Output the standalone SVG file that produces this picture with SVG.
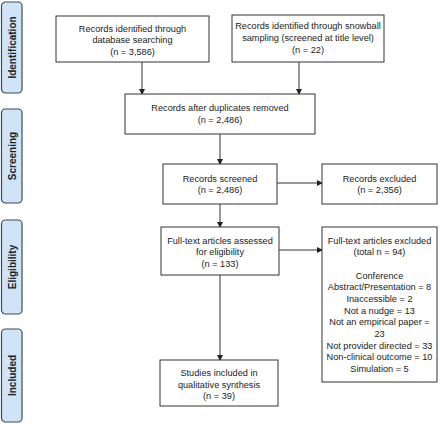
<svg xmlns="http://www.w3.org/2000/svg" width="440" height="424" viewBox="0 0 440 424">
<defs>
<marker id="ah" markerWidth="6" markerHeight="6" refX="5" refY="3" orient="auto" markerUnits="userSpaceOnUse">
<path d="M0,0 L6,3 L0,6 z" fill="#222"/>
</marker>
<style>
.box{fill:#fff;stroke:#333;stroke-width:1}
.side{fill:#cfe5f7;stroke:#3a4a5a;stroke-width:1.2}
.t{font-family:"Liberation Sans",Arial,sans-serif;font-size:9.2px;fill:#222;text-anchor:middle}
.s{font-family:"Liberation Sans",Arial,sans-serif;font-size:10px;font-weight:bold;fill:#222;text-anchor:middle}
.c{stroke:#333;stroke-width:1;fill:none;marker-end:url(#ah)}
</style>
</defs>
<rect width="440" height="424" fill="#fff"/>
<g id="phase-identification"><rect class="side" x="1.5" y="2" width="20.5" height="91" rx="4"/><text class="s" transform="translate(15.5,47.5) rotate(-90)">Identification</text></g>
<g id="phase-screening"><rect class="side" x="1.5" y="109" width="20.5" height="94" rx="4"/><text class="s" transform="translate(15.5,156) rotate(-90)">Screening</text></g>
<g id="phase-eligibility"><rect class="side" x="1.5" y="220" width="20.5" height="94" rx="4"/><text class="s" transform="translate(15.5,267) rotate(-90)">Eligibility</text></g>
<g id="phase-included"><rect class="side" x="1.5" y="329" width="20.5" height="93" rx="4"/><text class="s" transform="translate(15.5,375.5) rotate(-90)">Included</text></g>
<g id="connectors">
<path class="c" d="M142,62 V94"/>
<path class="c" d="M299,62 V94"/>
<path class="c" d="M220,134 V164"/>
<path class="c" d="M277,183 H322"/>
<path class="c" d="M220,204 V227"/>
<path class="c" d="M279,250 H322"/>
<path class="c" d="M220,275 V360"/>
</g>
<g id="n-database"><rect class="box" x="56" y="16" width="153" height="46"/>
<text class="t" x="132.5" y="31.5">Records identified through</text>
<text class="t" x="132.5" y="43.2">database searching</text>
<text class="t" x="132.5" y="54.9">(n = 3,586)</text></g>
<g id="n-snowball"><rect class="box" x="232" y="15" width="152" height="47"/>
<text class="t" x="308" y="29.3">Records identified through snowball</text>
<text class="t" x="308" y="41">sampling (screened at title level)</text>
<text class="t" x="308" y="52.7">(n = 22)</text></g>
<g id="n-duplicates"><rect class="box" x="125" y="94" width="190" height="40"/>
<text class="t" x="220" y="111">Records after duplicates removed</text>
<text class="t" x="220" y="122.5">(n = 2,486)</text></g>
<g id="n-screened"><rect class="box" x="163" y="164" width="114" height="40"/>
<text class="t" x="220" y="181.5">Records screened</text>
<text class="t" x="220" y="193.2">(n = 2,486)</text></g>
<g id="n-excluded"><rect class="box" x="322" y="164" width="115" height="40"/>
<text class="t" x="379.5" y="181.5">Records excluded</text>
<text class="t" x="379.5" y="193.2">(n = 2,356)</text></g>
<g id="n-fulltext"><rect class="box" x="161" y="227" width="118" height="48"/>
<text class="t" x="220" y="243.5">Full-text articles assessed</text>
<text class="t" x="220" y="255.2">for eligibility</text>
<text class="t" x="220" y="266.9">(n = 133)</text></g>
<g id="n-ftexcluded"><rect class="box" x="322" y="227" width="115" height="155"/>
<text class="t" x="379.5" y="243.5">Full-text articles excluded</text>
<text class="t" x="379.5" y="255.2">(total n = 94)</text>
<text class="t" x="379.5" y="278.5">Conference</text>
<text class="t" x="379.5" y="290.2">Abstract/Presentation = 8</text>
<text class="t" x="379.5" y="301.9">Inaccessible = 2</text>
<text class="t" x="379.5" y="313.6">Not a nudge = 13</text>
<text class="t" x="379.5" y="325.3">Not an empirical paper =</text>
<text class="t" x="379.5" y="337">23</text>
<text class="t" x="379.5" y="348.7">Not provider directed = 33</text>
<text class="t" x="379.5" y="360.4">Non-clinical outcome = 10</text>
<text class="t" x="379.5" y="372.1">Simulation = 5</text></g>
<g id="n-included"><rect class="box" x="160" y="360" width="118" height="46"/>
<text class="t" x="219" y="375.5">Studies included in</text>
<text class="t" x="219" y="387.5">qualitative synthesis</text>
<text class="t" x="219" y="398.9">(n = 39)</text></g>
</svg>
